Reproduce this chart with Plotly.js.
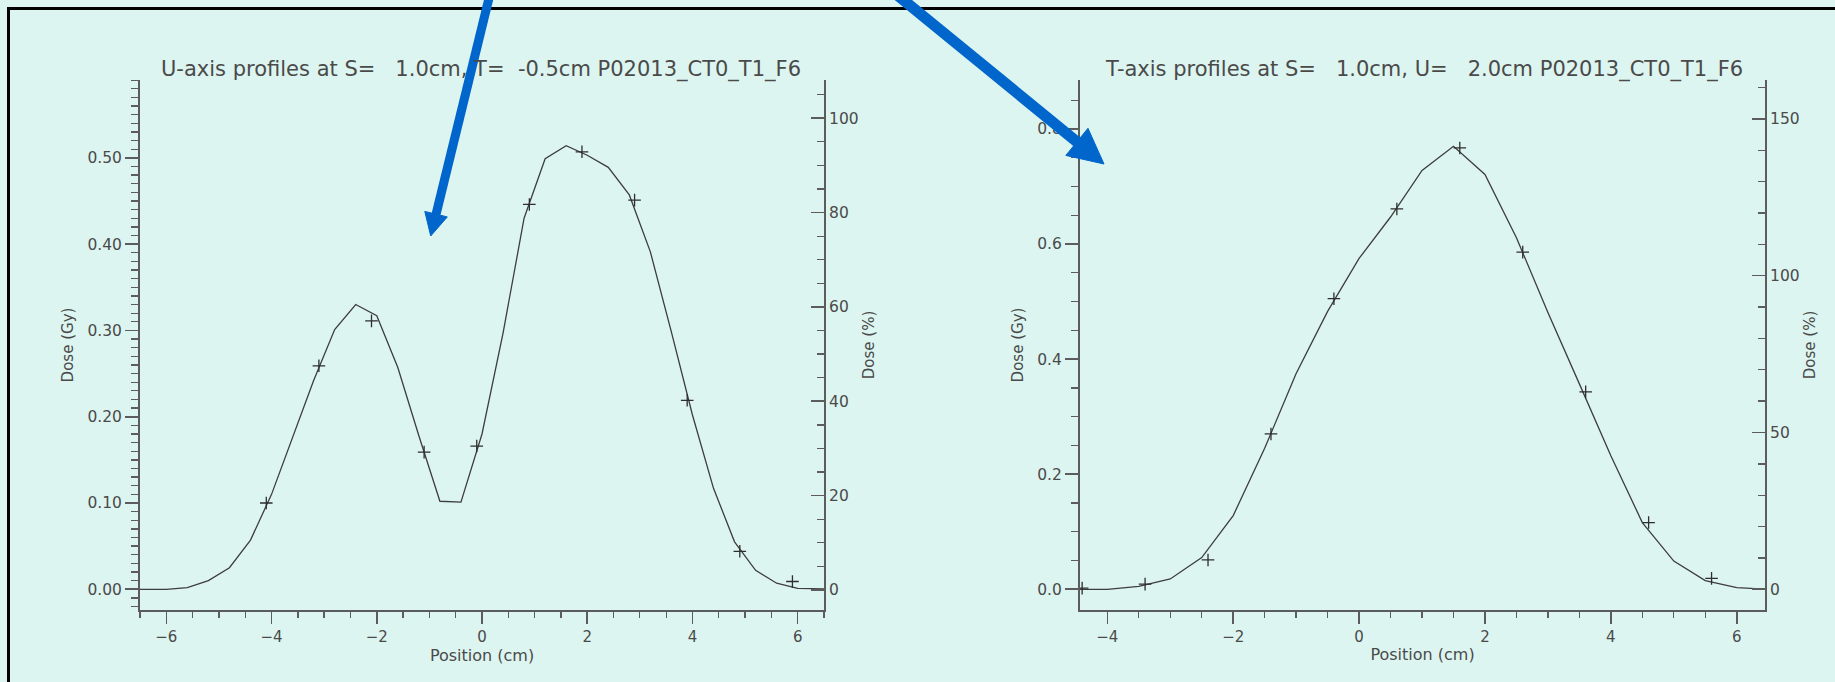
<!DOCTYPE html>
<html>
<head>
<meta charset="utf-8">
<script src="https://cdn.plot.ly/plotly-3.0.1.min.js"></script>
<style>
  html, body { margin: 0; padding: 0; background: #ddf5f0; }
  #chart { width: 1835px; height: 682px; }
</style>
</head>
<body>
<div id="chart"></div>
<script>
// ---------- DATA ----------
// U-axis profile (left panel): calculated curve (cm, Gy)
const uCalcPos  = [-6.8, -6.4, -6.0, -5.6, -5.2, -4.8, -4.4, -4.0, -3.6, -3.2, -2.8, -2.4, -2.0, -1.6, -1.2, -0.8, -0.4, 0.0, 0.4, 0.8, 1.2, 1.6, 2.0, 2.4, 2.8, 3.2, 3.6, 4.0, 4.4, 4.8, 5.2, 5.6, 6.0, 6.4, 6.8];
const uCalcDose = [0.000, 0.000, 0.000, 0.002, 0.010, 0.025, 0.057, 0.110, 0.175, 0.242, 0.301, 0.330, 0.317, 0.257, 0.178, 0.102, 0.101, 0.180, 0.297, 0.430, 0.499, 0.514, 0.503, 0.489, 0.457, 0.391, 0.298, 0.202, 0.117, 0.055, 0.022, 0.007, 0.001, 0.000, 0.000];
// U-axis profile: measured points
const uMeasPos  = [-4.1, -3.1, -2.1, -1.1, -0.1, 0.9, 1.9, 2.9, 3.9, 4.9, 5.9];
const uMeasDose = [0.100, 0.259, 0.311, 0.159, 0.166, 0.446, 0.507, 0.451, 0.219, 0.044, 0.009];

// T-axis profile (right panel): calculated curve (cm, Gy)
const tCalcPos  = [-4.5, -4.0, -3.5, -3.0, -2.5, -2.0, -1.5, -1.0, -0.5, 0.0, 0.5, 1.0, 1.5, 2.0, 2.5, 3.0, 3.5, 4.0, 4.5, 5.0, 5.5, 6.0, 6.5];
const tCalcDose = [0.000, 0.000, 0.005, 0.018, 0.055, 0.128, 0.245, 0.375, 0.483, 0.575, 0.647, 0.728, 0.770, 0.721, 0.611, 0.481, 0.357, 0.232, 0.116, 0.049, 0.015, 0.003, 0.000];
// T-axis profile: measured points
const tMeasPos  = [-4.4, -3.4, -2.4, -1.4, -0.4, 0.6, 1.6, 2.6, 3.6, 4.6, 5.6];
const tMeasDose = [0.002, 0.009, 0.051, 0.270, 0.505, 0.661, 0.767, 0.586, 0.343, 0.116, 0.019];

// Texts
const titleLeft  = 'U-axis profiles at S=\u00A0\u00A0\u00A01.0cm, T=\u00A0\u00A0-0.5cm P02013_CT0_T1_F6';
const titleRight = 'T-axis profiles at S=\u00A0\u00A0\u00A01.0cm, U=\u00A0\u00A0\u00A02.0cm P02013_CT0_T1_F6';
const xTitle = 'Position (cm)';
const yTitleGy = 'Dose\u00A0(Gy)';
const yTitlePct = 'Dose\u00A0(%)';

// ---------- LAYOUT HELPERS ----------
const W = 1835, H = 682;
const fx = p => p / W;
const fy = p => 1 - p / H;

const FONT = 'DejaVu Sans';
const TXT = '#4a4a4a';
const AXC = '#5c5c5c';
const BG = '#ddf5f0';
const BLUE = '#0066cc';

function xAxis(domain, range, anchor) {
  return {
    domain: domain, range: range, anchor: anchor,
    tick0: 0, dtick: 2, ticks: 'outside', ticklen: 12, tickwidth: 1.6, tickcolor: AXC,
    minor: { dtick: 0.5, tick0: 0, ticks: 'outside', ticklen: 6, tickwidth: 1.3, tickcolor: AXC },
    showline: true, linecolor: AXC, linewidth: 2,
    showgrid: false, zeroline: false,
    tickfont: { family: FONT, size: 15, color: TXT },
    title: { text: xTitle, font: { family: FONT, size: 16, color: TXT }, standoff: 4 }
  };
}
function yAxisLeft(domain, range, anchor, dtick, minorDtick, fmt) {
  return {
    domain: domain, range: range, anchor: anchor,
    tick0: 0, dtick: dtick, tickformat: fmt,
    ticks: 'outside', ticklen: 13, tickwidth: 1.6, tickcolor: AXC,
    minor: { dtick: minorDtick, tick0: 0, ticks: 'outside', ticklen: 7, tickwidth: 1.3, tickcolor: AXC },
    showline: true, linecolor: AXC, linewidth: 2,
    showgrid: false, zeroline: false,
    tickfont: { family: FONT, size: 15.5, color: TXT },
    title: { text: yTitleGy, font: { family: FONT, size: 15, color: TXT }, standoff: 10 }
  };
}
function yAxisRight(overlay, range, anchor, dtick, minorDtick) {
  return {
    overlaying: overlay, side: 'right', anchor: anchor, range: range,
    tick0: 0, dtick: dtick,
    ticks: 'inside', ticklen: 13, tickwidth: 1.6, tickcolor: AXC,
    minor: { dtick: minorDtick, tick0: 0, ticks: 'inside', ticklen: 7, tickwidth: 1.3, tickcolor: AXC },
    showline: true, linecolor: AXC, linewidth: 2,
    showgrid: false, zeroline: false,
    tickfont: { family: FONT, size: 15.5, color: TXT },
    title: { text: yTitlePct, font: { family: FONT, size: 15, color: TXT }, standoff: 6 }
  };
}

// Arrow built from shapes (pixel positions converted to paper fractions)
function arrowShapes(sx, sy, tx, ty, headLen, headHalf, shaftW) {
  const dx = tx - sx, dy = ty - sy, L = Math.hypot(dx, dy);
  const ux = dx / L, uy = dy / L, px = -uy, py = ux;
  const bx = tx - ux * headLen, by = ty - uy * headLen;
  const ex = bx + ux * 3, ey = by + uy * 3;
  return [
    { type: 'line', xref: 'paper', yref: 'paper', layer: 'above',
      x0: fx(sx), y0: fy(sy), x1: fx(ex), y1: fy(ey),
      line: { color: BLUE, width: shaftW } },
    { type: 'path', xref: 'paper', yref: 'paper', layer: 'above',
      path: `M ${fx(tx)},${fy(ty)} L ${fx(bx + px * headHalf)},${fy(by + py * headHalf)} L ${fx(bx - px * headHalf)},${fy(by - py * headHalf)} Z`,
      fillcolor: BLUE, line: { color: BLUE, width: 1 } }
  ];
}

const yDom = [fy(610), fy(80)];

const traces = [
  { x: uCalcPos, y: uCalcDose, xaxis: 'x', yaxis: 'y', mode: 'lines',
    line: { color: '#3d3d3d', width: 1.3 }, showlegend: false },
  { x: uMeasPos, y: uMeasDose, xaxis: 'x', yaxis: 'y', mode: 'markers',
    marker: { symbol: 'cross-thin', size: 9, line: { color: '#2e2e2e', width: 1.3 } }, showlegend: false },
  // empty trace so the percentage axis of the left panel is created
  { x: [], y: [], xaxis: 'x', yaxis: 'y2', mode: 'lines', showlegend: false, hoverinfo: 'skip' },
  { x: tCalcPos, y: tCalcDose, xaxis: 'x2', yaxis: 'y3', mode: 'lines',
    line: { color: '#3d3d3d', width: 1.3 }, showlegend: false },
  { x: tMeasPos, y: tMeasDose, xaxis: 'x2', yaxis: 'y3', mode: 'markers',
    marker: { symbol: 'cross-thin', size: 9, line: { color: '#2e2e2e', width: 1.3 } }, showlegend: false },
  // empty trace so the percentage axis of the right panel is created
  { x: [], y: [], xaxis: 'x2', yaxis: 'y4', mode: 'lines', showlegend: false, hoverinfo: 'skip' }
];

const layout = {
  width: W, height: H,
  margin: { l: 0, r: 0, t: 0, b: 0 },
  paper_bgcolor: BG, plot_bgcolor: BG,
  font: { family: FONT, size: 15, color: TXT },
  showlegend: false,
  xaxis: xAxis([fx(140), fx(824)], [-6.5, 6.5], 'y'),
  yaxis: yAxisLeft(yDom, [-0.024, 0.5902], 'x', 0.1, 0.01, '.2f'),
  yaxis2: yAxisRight('y', [-4.24, 108.1], 'x', 20, 5),
  xaxis2: xAxis([fx(1080), fx(1765)], [-4.434, 6.449], 'y3'),
  yaxis3: yAxisLeft(yDom, [-0.036, 0.8851], 'x2', 0.2, 0.05, '.1f'),
  yaxis4: yAxisRight('y3', [-6.6, 162.4], 'x2', 50, 10),
  annotations: [
    { text: titleLeft, xref: 'paper', yref: 'paper', x: fx(481), y: fy(69),
      xanchor: 'center', yanchor: 'middle', showarrow: false,
      font: { family: FONT, size: 21, color: TXT } },
    { text: titleRight, xref: 'paper', yref: 'paper', x: fx(1424), y: fy(69),
      xanchor: 'center', yanchor: 'middle', showarrow: false,
      font: { family: FONT, size: 21, color: TXT } }
  ],
  shapes: [
    { type: 'rect', xref: 'paper', yref: 'paper', layer: 'above',
      x0: fx(8.5), y0: fy(8.5), x1: fx(1900), y1: fy(760),
      line: { color: '#000000', width: 3 } }
  ].concat(
    arrowShapes(491, -10, 430.7, 236, 22.5, 11.6, 9),
    arrowShapes(896, -6, 1104, 164, 35, 17.5, 11)
  )
};

Plotly.newPlot('chart', traces, layout, { displayModeBar: false, staticPlot: true });
</script>
</body>
</html>
